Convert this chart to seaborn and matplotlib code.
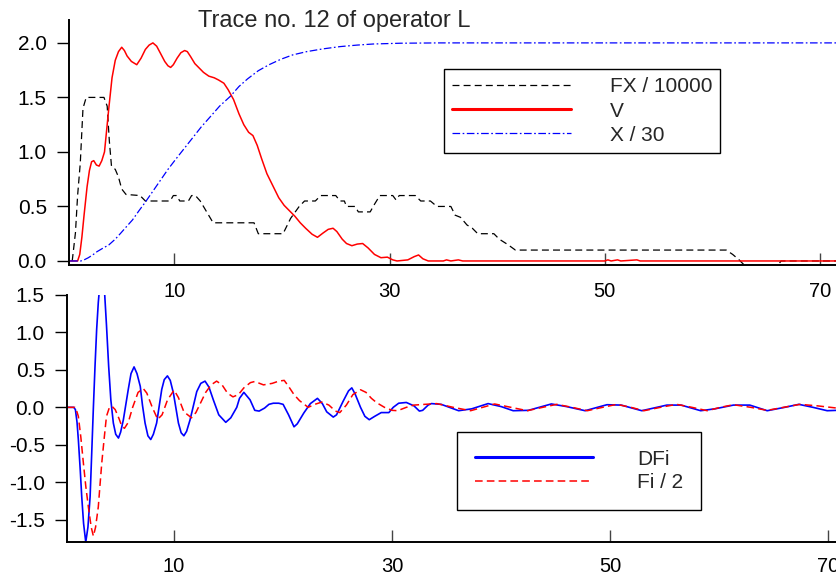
import matplotlib
matplotlib.use('Agg')
import matplotlib.pyplot as plt
from matplotlib.ticker import FormatStrFormatter
import seaborn as sns

##########################################################
# upper panel: FX / 10000, V, X / 30
fx_t = [0.5, 0.8, 1.0, 1.25, 1.5, 1.8, 3.45, 3.75, 3.95, 4.15, 4.5, 4.8, 5.1, 5.5, 6.8, 7.3, 9.6,
        9.9, 10.2, 10.5, 11.3, 11.6, 11.95, 12.4, 13.0, 13.6, 17.4, 17.8, 20.1, 20.8, 21.6, 22.1,
        23.1, 23.6, 25.0, 25.4, 25.8, 26.0, 26.8, 27.1, 28.2, 28.6, 29.1, 30.3, 30.6, 30.9, 32.4,
        32.9, 33.8, 34.4, 35.7, 36.1, 36.6, 37.2, 37.7, 38.2, 39.7, 40.2, 41.0, 41.7, 61.3, 61.9,
        62.5, 63.0, 66.1, 66.4, 71.7]
fx_v = [0.0, 0.26, 0.6, 0.9, 1.4, 1.5, 1.5, 1.42, 1.1, 0.87, 0.84, 0.77, 0.66, 0.61, 0.6, 0.55, 0.55,
        0.6, 0.6, 0.55, 0.55, 0.6, 0.6, 0.55, 0.45, 0.35, 0.35, 0.25, 0.25, 0.39, 0.5, 0.55,
        0.55, 0.6, 0.6, 0.55, 0.55, 0.5, 0.5, 0.45, 0.45, 0.52, 0.6, 0.6, 0.56, 0.6, 0.6,
        0.55, 0.55, 0.5, 0.5, 0.42, 0.4, 0.33, 0.3, 0.25, 0.25, 0.2, 0.15, 0.1, 0.1, 0.06,
        0.01, -0.04, -0.04, 0.0, 0.0]

v_t = [0.3, 1.0, 1.2, 1.4, 1.6, 1.88, 2.1, 2.3, 2.5, 2.75, 3.0, 3.25, 3.5, 3.7, 3.9, 4.2, 4.5, 4.8,
       5.1, 5.35, 5.6, 6.0, 6.5, 6.9, 7.3, 7.65, 8.0, 8.35, 8.7, 9.1, 9.4, 9.65, 9.9, 10.25, 10.6,
       10.95, 11.2, 11.5, 11.9, 12.3, 12.7, 13.2, 13.7, 14.1, 14.6, 15.0, 15.5, 16.0, 16.45, 16.9,
       17.3, 17.7, 18.1, 18.6, 19.2, 19.7, 20.2, 20.7, 21.2, 21.7, 22.2, 22.8, 23.3, 23.8, 24.3,
       24.75, 25.1, 25.6, 26.0, 26.5, 27.0, 27.5, 28.0, 28.6, 29.2, 29.8, 30.3, 30.7, 31.7, 32.3,
       32.7, 33.1, 33.6, 35.0, 35.3, 35.7, 36.4, 36.8, 50.0, 50.3, 50.6, 51.2, 51.5, 53.0, 53.3, 71.7]
v_v = [0.0, 0.0, 0.06, 0.22, 0.42, 0.68, 0.83, 0.91, 0.92, 0.88, 0.87, 0.92, 1.0, 1.2, 1.4, 1.68,
       1.84, 1.92, 1.96, 1.93, 1.88, 1.83, 1.8, 1.86, 1.94, 1.98, 2.0, 1.97, 1.905, 1.83, 1.79, 1.775,
       1.8, 1.86, 1.91, 1.93, 1.92, 1.875, 1.81, 1.77, 1.73, 1.695, 1.68, 1.66, 1.63, 1.57, 1.48,
       1.35, 1.25, 1.18, 1.15, 1.06, 0.94, 0.8, 0.68, 0.58, 0.51, 0.46, 0.41, 0.35, 0.3, 0.245,
       0.217, 0.255, 0.29, 0.3, 0.27, 0.2, 0.16, 0.14, 0.155, 0.16, 0.12, 0.06, 0.03, 0.035, 0.01,
       0.0, 0.01, 0.04, 0.055, 0.02, 0.0, 0.0, 0.01, 0.0, 0.01, 0.0, 0.0, 0.01, 0.0, 0.01, 0.0, 0.01,
       0.0, 0.0]

x30_t = [0.3, 1.3, 1.6, 2.0, 2.4, 2.8, 3.4, 3.9, 4.5, 5.0, 5.5, 6.1, 6.7, 7.3, 8.0, 8.7, 9.4, 10.1,
         10.9, 11.7, 12.5, 13.4, 14.2, 15.2, 16.0, 16.8, 17.8, 18.8, 19.9, 21.0, 22.3, 23.8, 25.4,
         27.0, 28.5, 31.0, 34.7, 71.7]
x30_v = [0.0, 0.0, 0.01, 0.03, 0.055, 0.085, 0.12, 0.147, 0.2, 0.254, 0.31, 0.376, 0.46, 0.54, 0.64,
         0.74, 0.84, 0.93, 1.03, 1.13, 1.23, 1.33, 1.42, 1.51, 1.6, 1.67, 1.745, 1.8, 1.85, 1.89,
         1.92, 1.945, 1.966, 1.98, 1.99, 1.997, 2.0, 2.0]

##########################################################
# lower panel: DFi, Fi / 2
dfi_t = [0.2, 0.8, 0.95, 1.1, 1.22, 1.4, 1.53, 1.7, 1.9, 2.1, 2.3, 2.45, 2.6, 2.75, 2.9, 3.05, 3.2,
         3.4, 3.6, 3.8, 4.0, 4.2, 4.43, 4.65, 4.9, 5.1, 5.35, 5.8, 6.05, 6.33, 6.6, 6.9, 7.1, 7.34,
         7.6, 7.86, 8.1, 8.4, 8.87, 9.1, 9.39, 9.65, 9.94, 10.4, 10.65, 10.9, 11.15, 11.47, 12.08,
         12.45, 12.84, 13.2, 13.6, 14.1, 14.74, 15.2, 15.75, 16.0, 16.4, 16.97, 17.4, 17.8, 18.3,
         18.7, 19.1, 19.6, 20.0, 20.5, 21.0, 21.3, 21.9, 22.5, 23.15, 23.6, 24.0, 24.6, 24.9, 25.5,
         26.0, 26.3, 26.6, 27.1, 27.5, 27.9, 28.4, 29.0, 29.7, 30.1, 30.6, 31.3, 32.0, 32.5, 32.8,
         33.3, 33.6, 34.5, 36.1, 37.3, 38.8, 40.0, 41.1, 42.5, 44.6, 46.0, 47.7, 49.7, 51.0, 52.9,
         55.2, 56.5, 58.3, 59.6, 61.3, 62.8, 64.4, 66.0, 67.3, 68.6, 69.9, 70.8]
dfi_v = [0.0, 0.0, -0.03, -0.2, -0.43, -0.85, -1.19, -1.55, -1.8, -1.6, -1.19, -0.6, 0.0, 0.55,
         1.04, 1.4, 1.65, 1.75, 1.6, 1.1, 0.55, 0.1, -0.21, -0.36, -0.41, -0.33, -0.165, 0.24, 0.45,
         0.54, 0.45, 0.28, 0.03, -0.21, -0.38, -0.43, -0.36, -0.21, 0.24, 0.37, 0.42, 0.36, 0.19,
         -0.21, -0.34, -0.38, -0.32, -0.165, 0.21, 0.32, 0.35, 0.27, 0.1, -0.1, -0.2, -0.14, 0.0,
         0.12, 0.2, 0.1, -0.04, -0.05, -0.01, 0.04, 0.055, 0.055, 0.04, -0.1, -0.26, -0.22, -0.075,
         0.05, 0.12, 0.05, -0.06, -0.13, -0.1, 0.08, 0.22, 0.26, 0.18, 0.0, -0.12, -0.165, -0.12,
         -0.07, -0.07, 0.0, 0.055, 0.065, 0.02, -0.05, -0.04, 0.03, 0.05, 0.04, -0.045, -0.02, 0.05,
         0.01, -0.045, -0.04, 0.045, 0.01, -0.045, 0.035, 0.03, -0.045, 0.03, 0.03, -0.045, -0.02,
         0.03, 0.03, -0.045, 0.0, 0.04, 0.0, -0.045, -0.04]

fi_t = [0.2, 0.9, 1.05, 1.22, 1.45, 1.68, 1.9, 2.14, 2.4, 2.6, 2.8, 3.05, 3.2, 3.37, 3.6, 3.8, 4.05,
        4.3, 4.6, 4.95, 5.2, 5.45, 5.8, 6.2, 6.7, 7.18, 7.5, 8.0, 8.5, 8.9, 9.4, 10.0, 10.4, 10.9,
        11.6, 12.0, 12.4, 12.9, 13.4, 13.9, 14.4, 14.9, 15.4, 15.9, 16.4, 17.0, 17.4, 18.2, 19.0,
        19.6, 20.1, 20.5, 21.0, 21.5, 22.3, 22.9, 23.55, 24.2, 24.8, 25.2, 25.8, 26.4, 27.1, 27.6,
        28.1, 28.6, 29.3, 30.0, 30.5, 31.3, 32.0, 33.0, 34.1, 35.6, 37.2, 38.3, 39.4, 40.9, 42.4,
        43.8, 45.1, 46.5, 47.9, 49.3, 50.6, 51.9, 53.1, 54.6, 56.1, 57.5, 58.9, 60.1, 61.3, 62.9,
        64.4, 65.9, 67.4, 69.0, 70.8]
fi_v = [0.0, 0.0, -0.04, -0.12, -0.4, -0.74, -1.05, -1.33, -1.6, -1.72, -1.6, -1.33, -1.05, -0.74,
        -0.4, -0.12, -0.01, 0.015, -0.03, -0.15, -0.25, -0.28, -0.2, 0.0, 0.2, 0.25, 0.19, 0.0,
        -0.16, -0.1, 0.1, 0.23, 0.13, -0.06, -0.14, -0.07, 0.05, 0.2, 0.3, 0.35, 0.3, 0.19, 0.14,
        0.17, 0.26, 0.33, 0.345, 0.3, 0.32, 0.35, 0.36, 0.28, 0.17, 0.09, 0.0, 0.04, 0.07, 0.03,
        -0.05, -0.07, 0.03, 0.17, 0.235, 0.2, 0.12, 0.06, 0.0, -0.04, -0.045, 0.0, 0.03, 0.04, 0.05,
        0.0, -0.045, 0.0, 0.045, 0.0, -0.045, 0.0, 0.04, 0.0, -0.045, 0.0, 0.04, 0.0, -0.045, 0.0,
        0.04, 0.0, -0.045, 0.0, 0.035, 0.0, -0.04, 0.0, 0.04, 0.02, -0.01]

x_ticks = [10, 30, 50, 70]
top_yticks = [0.0, 0.5, 1.0, 1.5, 2.0]
bottom_yticks = [-1.5, -1.0, -0.5, 0.0, 0.5, 1.0, 1.5]

sns.set_style('white')
plt.rcParams['font.family'] = ['Liberation Sans', 'DejaVu Sans']
plt.rcParams['axes.unicode_minus'] = False
plt.rcParams['lines.scale_dashes'] = False

W, H = 837, 578
fig = plt.figure(figsize=(W / 100, H / 100), dpi=100, facecolor='white')
ax1 = fig.add_axes([69 / W, 1 - 265 / H, 1 - 69 / W, (265 - 20) / H])
ax2 = fig.add_axes([67 / W, 1 - 541.7 / H, 1 - 67 / W, (541.7 - 295) / H])
# lower panel must not hide the tick labels of the upper one
ax2.patch.set_visible(False)
ax1.set_zorder(2)

common = dict(estimator=None, sort=False)
sns.lineplot(x=fx_t, y=fx_v, ax=ax1, color='black', lw=0.9, linestyle=(0, (5, 3)),
             label='FX / 10000', **common)
sns.lineplot(x=v_t, y=v_v, ax=ax1, color='#ff0000', lw=1.1, label='V', **common)
sns.lineplot(x=x30_t, y=x30_v, ax=ax1, color='#0000ff', lw=0.9,
             linestyle=(0, (5.5, 1.8, 1.2, 1.8)), label='X / 30', **common)

sns.lineplot(x=dfi_t, y=dfi_v, ax=ax2, color='#0000ff', lw=1.2, label='DFi', **common)
sns.lineplot(x=fi_t, y=fi_v, ax=ax2, color='#ff0000', lw=1.1, linestyle=(0, (5.5, 3)),
             label='Fi / 2', **common)

ax1.set_xlim(0.2, 71.6)
ax1.set_ylim(-0.037, 2.21)
ax2.set_xlim(0.18, 70.8)
ax2.set_ylim(-1.794, 1.5)

for ax, yt, xpad in ((ax1, top_yticks, 12), (ax2, bottom_yticks, 11)):
    ax.set_xlabel('')
    ax.set_ylabel('')
    ax.set_xticks(x_ticks)
    ax.set_yticks(yt)
    ax.yaxis.set_major_formatter(FormatStrFormatter('%.1f'))
    ax.spines[['top', 'right']].set_visible(False)
    for s in ('left', 'bottom'):
        ax.spines[s].set_color('black')
        ax.spines[s].set_linewidth(1.4)
    ax.tick_params(axis='x', bottom=True, direction='in', length=9, width=1,
                   color='#444444', pad=xpad, labelsize=14.5, labelcolor='black')
    ax.tick_params(axis='y', left=True, direction='out', length=8.5, width=1,
                   color='black', pad=7.5, labelsize=15, labelcolor='black')

leg_kw = dict(loc='upper left', bbox_transform=fig.transFigure, borderaxespad=0,
              frameon=True, fancybox=False, edgecolor='black', framealpha=1,
              fontsize=15, handlelength=5.7)
leg1 = ax1.legend(bbox_to_anchor=(444 / W, 1 - 69 / H), borderpad=0.4,
                  handletextpad=1.85, labelspacing=0.25, **leg_kw)
leg1.get_frame().set_linewidth(1.0)
leg1.get_lines()[1].set_linewidth(2.2)

leg2 = ax2.legend(bbox_to_anchor=(457 / W, 1 - 432 / H), borderpad=0.85,
                  handletextpad=2.1, labelspacing=0.2, **leg_kw)
leg2.get_frame().set_linewidth(1.0)
leg2.get_lines()[0].set_linewidth(2.2)

fig.text(198 / W, 1 - 27 / H, 'Trace no. 12 of operator L', fontsize=17, va='baseline')

fig.savefig('out.png', dpi=100)
